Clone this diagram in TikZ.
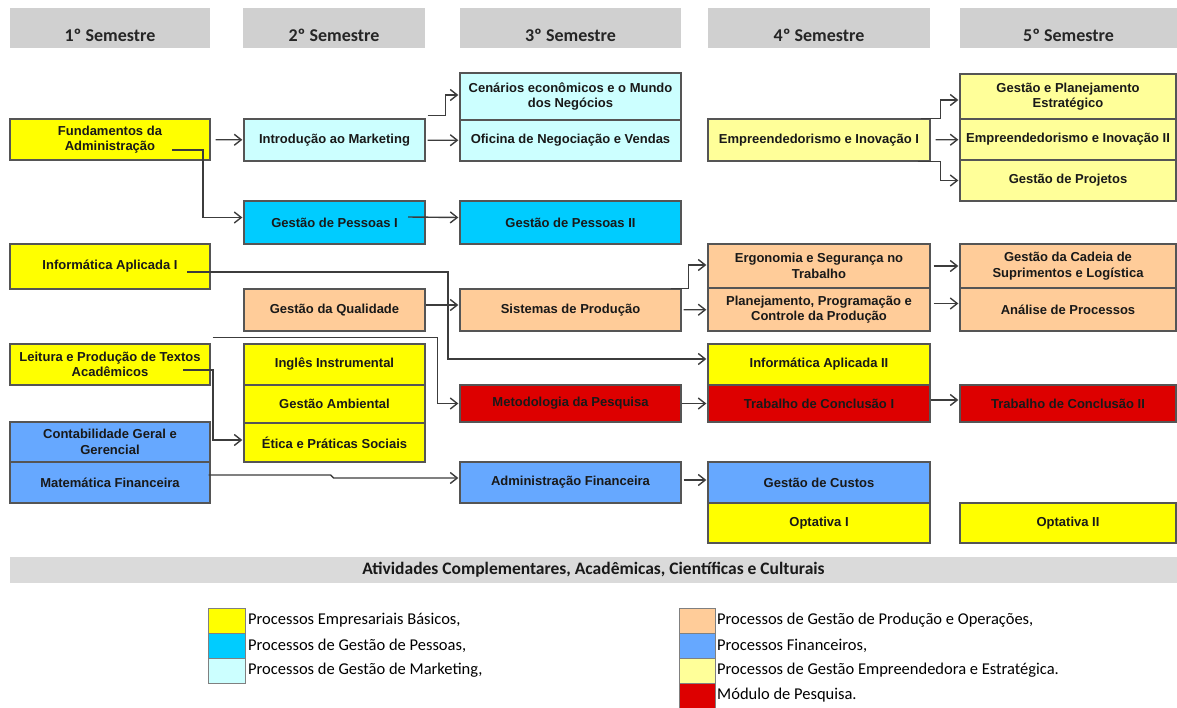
\documentclass[tikz,border=0pt]{standalone}
\usepackage{fontspec}
\setmainfont{Liberation Sans}
\newfontfamily\calib{Carlito}
\usetikzlibrary{arrows.meta}

\definecolor{basico}{HTML}{FFFF00}
\definecolor{pessoas}{HTML}{00CCFF}
\definecolor{marketing}{HTML}{CCFFFF}
\definecolor{producao}{HTML}{FFCC99}
\definecolor{financas}{HTML}{66A8FF}
\definecolor{empreend}{HTML}{FFFF99}
\definecolor{pesquisa}{HTML}{DD0000}
\definecolor{cinza}{HTML}{D0D0D0}
\definecolor{cinzaclaro}{HTML}{DADADA}
\definecolor{borda}{HTML}{555555}
\definecolor{seta}{HTML}{3C3C3C}

\tikzset{
  disc/.style={draw=borda, line width=1.3pt, inner sep=0pt, align=center,
    text=black!90, font=\fontsize{13}{15.5}\selectfont\bfseries},
  sz/.style 2 args={minimum width=#1pt, minimum height=#2pt},
  head/.style={fill=cinza, inner sep=0pt, text height=33pt, text depth=7pt,
    font=\calib\fontsize{18}{20}\selectfont\bfseries, text=black!85},
  link/.style={->, draw=seta, line width=1.4pt, shorten >=1pt},
  swatch/.style={draw=black!50, line width=0.6pt, inner sep=0pt},
  legtext/.style={anchor=west, inner sep=0pt, font=\calib\fontsize{16.5}{18}\selectfont}
}

\begin{document}
\begin{tikzpicture}[x=1pt, y=-1pt, >={Straight Barb[length=7pt,width=11pt]}]
  \useasboundingbox (0,0) rectangle (1177,707);
  % semestres
  \node[head, sz={200}{40}] (s1) at (110,28) {1º Semestre};
  \node[head, sz={182}{40}] (s2) at (334,28) {2º Semestre};
  \node[head, sz={221}{40}] (s3) at (570.5,28) {3º Semestre};
  \node[head, sz={222}{40}] (s4) at (819,28) {4º Semestre};
  \node[head, sz={217}{40}] (s5) at (1068.5,28) {5º Semestre};

  % 1o semestre
  \node[disc, fill=basico, sz={200}{41}] (fund) at (110,139.5) {Fundamentos da\\Administração};
  \node[disc, fill=basico, sz={200}{45}] (inf1) at (110,266.5) {Informática Aplicada I};
  \node[disc, fill=basico, sz={200}{41}] (leit) at (110,364.5) {Leitura e Produção de Textos\\Acadêmicos};
  \node[disc, fill=financas, sz={200}{40}] (cont) at (110,442) {Contabilidade Geral e\\Gerencial};
  \node[disc, fill=financas, sz={200}{41}] (mat) at (110,482.5) {Matemática Financeira};

  % 2o semestre
  \node[disc, fill=marketing, sz={181}{42}] (intro) at (334.5,140) {Introdução ao Marketing};
  \node[disc, fill=pessoas, sz={181}{43}] (gp1) at (334.5,222.5) {Gestão de Pessoas I};
  \node[disc, fill=producao, sz={181}{42}] (gq) at (334.5,310) {Gestão da Qualidade};
  \node[disc, fill=basico, sz={181}{41}] (ing) at (334.5,364.5) {Inglês Instrumental};
  \node[disc, fill=basico, sz={181}{38}] (amb) at (334.5,404) {Gestão Ambiental};
  \node[disc, fill=basico, sz={181}{39}] (etica) at (334.5,442.5) {Ética e Práticas Sociais};

  % 3o semestre
  \node[disc, fill=marketing, sz={221}{47}] (cen) at (570.5,96.5) {Cenários econômicos e o Mundo\\dos Negócios};
  \node[disc, fill=marketing, sz={221}{41}] (ofic) at (570.5,140.5) {Oficina de Negociação e Vendas};
  \node[disc, fill=pessoas, sz={221}{43}] (gp2) at (570.5,222.5) {Gestão de Pessoas II};
  \node[disc, fill=producao, sz={221}{42}] (sp) at (570.5,310) {Sistemas de Produção};
  \node[disc, fill=pesquisa, sz={221}{37}] (met) at (570.5,403.5) {Metodologia da Pesquisa};
  \node[disc, fill=financas, sz={221}{41}] (admf) at (570.5,482.5) {Administração Financeira};

  % 4o semestre
  \node[disc, fill=empreend, sz={222}{42}] (emp1) at (819,140) {Empreendedorismo e Inovação I};
  \node[disc, fill=producao, sz={222}{44}] (ergo) at (819,266) {Ergonomia e Segurança no\\Trabalho};
  \node[disc, fill=producao, sz={222}{43}] (plan) at (819,309.5) {Planejamento, Programação e\\Controle da Produção};
  \node[disc, fill=basico, sz={222}{41}] (inf2) at (819,364.5) {Informática Aplicada II};
  \node[disc, fill=pesquisa, sz={222}{37}] (tcc1) at (819,403.5) {Trabalho de Conclusão I};
  \node[disc, fill=financas, sz={222}{41}] (cust) at (819,482.5) {Gestão de Custos};
  \node[disc, fill=basico, sz={222}{40}] (opt1) at (819,523) {Optativa I};

  % 5o semestre
  \node[disc, fill=empreend, sz={216}{45}] (gpe) at (1068,96.5) {Gestão e Planejamento\\Estratégico};
  \node[disc, fill=empreend, sz={216}{41}] (emp2) at (1068,139.5) {Empreendedorismo e Inovação II};
  \node[disc, fill=empreend, sz={216}{41}] (gproj) at (1068,180.5) {Gestão de Projetos};
  \node[disc, fill=producao, sz={216}{44}] (cad) at (1068,266) {Gestão da Cadeia de\\Suprimentos e Logística};
  \node[disc, fill=producao, sz={216}{43}] (anal) at (1068,309.5) {Análise de Processos};
  \node[disc, fill=pesquisa, sz={216}{37}] (tcc2) at (1068,403.5) {Trabalho de Conclusão II};
  \node[disc, fill=basico, sz={216}{40}] (opt2) at (1068,523) {Optativa II};

  % pontos de saida
  \coordinate (fundout) at (172,150);
  \coordinate (gp1out) at (408,217);
  \coordinate (inf1out) at (187,272);
  \coordinate (leitout) at (183,370);

  % ligacoes
  \draw[link, shorten <=5pt] (fund) -- (intro);
  \draw[link] (fundout) -- ++(31,0) |- ([yshift=5pt]gp1.west);
  \draw[link] ([shift={(2pt,3pt)}]intro.north east) -- ++(18,0) |- ([yshift=1.5pt]cen.west);
  \draw[link, shorten <=2pt] (intro) -- (ofic);
  \draw[link] (gp1out) -- ([yshift=5pt]gp2.west);
  \draw[link] ([xshift=-10pt]emp1.north east) -- ++(20,0) |- ([yshift=-3.5pt]gpe.west);
  \draw[link, shorten <=5pt] (emp1) -- (emp2);
  \draw[link] ([xshift=-13pt]emp1.south east) -- ++(23,0) |- (gproj.west);
  \draw[link] (inf1out) -- ++(261,0) |- ([yshift=5.5pt]inf2.west);
  \draw[link] ([yshift=5pt]gq.east) -- ([yshift=5pt]sp.west);
  \draw[link] ([shift={(2pt,6pt)}]leit.north east) -- ++(225,0) |- (met.west);
  \draw[link] (leitout) -- ++(30,0) |- ([yshift=2.5pt]etica.west);
  \draw[link] ([shift={(-2pt,7.5pt)}]mat.east) -- ++(122,0) -- ++(3,3) -- ([yshift=4.5pt]admf.west);
  \draw[link] ([xshift=-11pt]sp.north east) -- ++(18,0) |- ([yshift=1pt]ergo.west);
  \draw[link, shorten <=2pt] (sp) -- (plan);
  \draw[link] (met) -- (tcc1);
  \draw[link, shorten <=2pt] ([yshift=2.5pt]admf.east) -- ([yshift=2.5pt]cust.west);
  \draw[link, shorten <=3pt] (ergo) -- (cad);
  \draw[link, shorten <=3pt] ([yshift=6pt]plan.east) -- ([yshift=6pt]anal.west);
  \draw[link] ([yshift=3.5pt]tcc1.east) -- ([yshift=3.5pt]tcc2.west);

  % atividades
  \node[fill=cinzaclaro, sz={1167}{26}, inner sep=0pt, text=black!90,
    font=\calib\fontsize{17.5}{19}\selectfont\bfseries] (acc) at (593.5,570)
    {Atividades Complementares, Acadêmicas, Científicas e Culturais};

  % legenda
  \node[swatch, fill=basico, sz={37}{25}] (lg1) at (226.5,620.5) {};
  \node[swatch, fill=pessoas, sz={37}{25}] (lg2) at (226.5,645.5) {};
  \node[swatch, fill=marketing, sz={37}{25}] (lg3) at (226.5,670.5) {};
  \node[legtext] (lt1) at (248,620.5) {Processos Empresariais Básicos,};
  \node[legtext] (lt2) at (248,645.5) {Processos de Gestão de Pessoas,};
  \node[legtext] (lt3) at (248,670.5) {Processos de Gestão de Marketing,};
  \node[swatch, fill=producao, sz={36}{25}] (lg4) at (697,620.5) {};
  \node[swatch, fill=financas, sz={36}{25}] (lg5) at (697,645.5) {};
  \node[swatch, fill=empreend, sz={36}{25}] (lg6) at (697,670.5) {};
  \node[swatch, fill=pesquisa, sz={36}{25}] (lg7) at (697,695.5) {};
  \node[legtext] (lt4) at (717,620.5) {Processos de Gestão de Produção e Operações,};
  \node[legtext] (lt5) at (717,645.5) {Processos Financeiros,};
  \node[legtext] (lt6) at (717,670.5) {Processos de Gestão Empreendedora e Estratégica.};
  \node[legtext] (lt7) at (717,695.5) {Módulo de Pesquisa.};
\end{tikzpicture}
\end{document}
